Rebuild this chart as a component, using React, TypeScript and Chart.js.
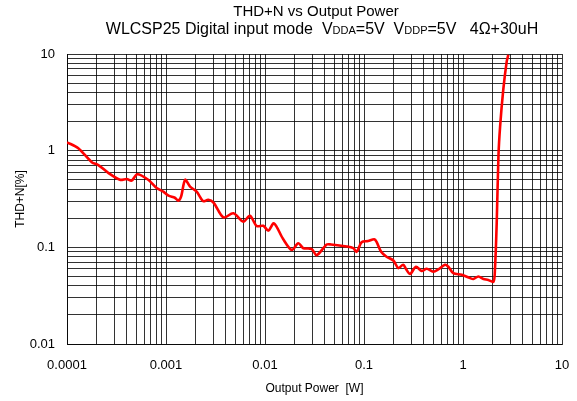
import React, { useEffect, useRef } from "react";
import { Chart, registerables } from "chart.js";

Chart.register(...registerables);

const powerW: number[] = [
  1.0e-4, 1.3e-4, 1.78e-4, 2.07e-4, 2.61e-4, 3.43e-4, 4.01e-4, 4.5e-4, 5.13e-4, 6.61e-4,
  8.05e-4, 9.4e-4, 1.06e-3, 1.23e-3, 1.33e-3, 1.42e-3, 1.56e-3, 1.75e-3, 2.04e-3, 2.38e-3,
  2.67e-3, 3.02e-3, 3.8e-3, 4.79e-3, 6.04e-3, 7.05e-3, 8.24e-3, 9.62e-3, 1.08e-2, 1.23e-2,
  1.53e-2, 1.86e-2, 2.17e-2, 2.44e-2, 2.96e-2, 3.33e-2, 4.2e-2, 4.64e-2, 6.68e-2, 7.8e-2,
  8.43e-2, 9.46e-2, 0.11, 0.127, 0.134, 0.149, 0.169, 0.198, 0.222, 0.249,
  0.265, 0.292, 0.335, 0.382, 0.43, 0.501, 0.562, 0.658, 0.711, 0.798,
  0.971, 1.18, 1.27, 1.43, 1.61, 1.8, 2.03, 2.1, 2.19, 2.28,
  2.37, 2.55, 2.76, 2.87,
];

const thdN: number[] = [
  1.22, 1.06, 0.76, 0.71, 0.59, 0.5, 0.51, 0.49, 0.57, 0.5,
  0.41, 0.377, 0.342, 0.326, 0.304, 0.334, 0.5, 0.425, 0.377, 0.3,
  0.31, 0.29, 0.204, 0.225, 0.184, 0.212, 0.166, 0.167, 0.149, 0.177,
  0.121, 0.094, 0.11, 0.098, 0.096, 0.083, 0.107, 0.107, 0.102, 0.098,
  0.09, 0.113, 0.116, 0.121, 0.114, 0.09, 0.08, 0.073, 0.061, 0.066,
  0.06, 0.053, 0.063, 0.057, 0.06, 0.056, 0.059, 0.066, 0.063, 0.054,
  0.052, 0.048, 0.047, 0.05, 0.047, 0.046, 0.044, 0.058, 0.177, 0.87,
  1.77, 4.25, 8.3, 9.8,
];

const xMajorLabels: string[] = ["0.0001", "0.001", "0.01", "0.1", "1", "10"];
const yMajorLabels: string[] = ["0.01", "0.1", "1", "10"];

const xMin = 0.0001;
const xMax = 10;
const yMin = 0.01;
const yMax = 10;

const titleLine1 = "THD+N vs Output Power";
const titleLine2: { text: string; sub: boolean }[] = [
  { text: "WLCSP25 Digital input mode  V", sub: false },
  { text: "DDA", sub: true },
  { text: "=5V  V", sub: false },
  { text: "DDP", sub: true },
  { text: "=5V   4Ω+30uH", sub: false },
];

const xTitle = "Output Power  [W]";
const yTitle = "THD+N[%]";

function logTicks(min: number, max: number): number[] {
  const out: number[] = [];
  const e0 = Math.round(Math.log10(min));
  const e1 = Math.round(Math.log10(max));
  for (let e = e0; e < e1; e++) {
    for (let m = 1; m <= 9; m++) out.push(parseFloat((m * Math.pow(10, e)).toPrecision(6)));
  }
  out.push(max);
  return out;
}

function majorLabel(v: number, labels: string[]): string {
  const l = Math.log10(v);
  if (Math.abs(l - Math.round(l)) > 1e-6) return "";
  const s = labels.find((t) => Math.abs(parseFloat(t) - v) < v * 1e-6);
  return s ?? "";
}

const FONT = "'Liberation Sans', Arial, Helvetica, sans-serif";

const titlePlugin = {
  id: "customTitle",
  afterDraw(chart: any) {
    const ctx = chart.ctx as CanvasRenderingContext2D;
    ctx.save();
    ctx.fillStyle = "#000";
    ctx.textBaseline = "alphabetic";
    ctx.textAlign = "left";
    ctx.font = `15px ${FONT}`;
    const w1 = ctx.measureText(titleLine1).width;
    ctx.fillText(titleLine1, 316 - w1 / 2, 16);
    const big = `16px ${FONT}`;
    const small = `11px ${FONT}`;
    let total = 0;
    for (const seg of titleLine2) {
      ctx.font = seg.sub ? small : big;
      total += ctx.measureText(seg.text).width;
    }
    let x = 322 - total / 2;
    for (const seg of titleLine2) {
      ctx.font = seg.sub ? small : big;
      ctx.fillText(seg.text, x, 34);
      x += ctx.measureText(seg.text).width;
    }
    ctx.restore();
  },
};

export default function App() {
  const ref = useRef<HTMLCanvasElement | null>(null);

  useEffect(() => {
    document.body.style.margin = "0";
    const canvas = ref.current;
    if (!canvas) return;
    const xTicks = logTicks(xMin, xMax);
    const yTicks = logTicks(yMin, yMax);
    const gridColor = "rgba(0,0,0,0.8)";
    const chart = new Chart(canvas, {
      type: "line",
      data: {
        datasets: [
          {
            data: powerW.map((p, i) => ({ x: p, y: thdN[i] })),
            borderColor: "#ff0000",
            borderWidth: 2.6,
            pointRadius: 0,
            tension: 0.3,
            fill: false,
          },
        ],
      },
      options: {
        animation: false,
        responsive: false,
        maintainAspectRatio: false,
        layout: { padding: { top: 54, right: 15, left: 0, bottom: 0 } },
        plugins: {
          legend: { display: false },
          tooltip: { enabled: false },
          title: { display: false },
        },
        scales: {
          x: {
            type: "logarithmic",
            min: xMin,
            max: xMax,
            afterBuildTicks: (scale: any) => {
              scale.ticks = xTicks.map((v) => ({ value: v }));
            },
            afterFit: (scale: any) => {
              scale.height = 57;
            },
            grid: {
              color: gridColor,
              lineWidth: 1,
              drawTicks: true,
              tickLength: 12,
              tickColor: "rgba(0,0,0,0)",
            },
            border: { display: true, color: gridColor, width: 1 },
            ticks: {
              autoSkip: false,
              maxRotation: 0,
              minRotation: 0,
              padding: 2,
              color: "#000",
              font: { family: FONT, size: 13 },
              callback: (v: any) => majorLabel(Number(v), xMajorLabels),
            },
            title: {
              display: true,
              text: xTitle,
              color: "#000",
              font: { family: FONT, size: 12 },
              padding: { top: 0, bottom: 5 },
            },
          },
          y: {
            type: "logarithmic",
            min: yMin,
            max: yMax,
            afterBuildTicks: (scale: any) => {
              scale.ticks = yTicks.map((v) => ({ value: v }));
            },
            afterFit: (scale: any) => {
              scale.width = 67;
            },
            grid: { color: gridColor, lineWidth: 1, drawTicks: false },
            border: { display: true, color: gridColor, width: 1 },
            ticks: {
              autoSkip: false,
              padding: 12,
              color: "#000",
              font: { family: FONT, size: 13 },
              callback: (v: any) => majorLabel(Number(v), yMajorLabels),
            },
            title: {
              display: true,
              text: yTitle,
              color: "#000",
              font: { family: FONT, size: 12 },
              padding: { top: 13, bottom: 0 },
            },
          },
        },
      },
      plugins: [titlePlugin],
    });
    return () => chart.destroy();
  }, []);

  return (
    <div style={{ position: "absolute", left: 0, top: 0, width: 577, height: 401 }}>
      <canvas ref={ref} width={577} height={401} style={{ display: "block", width: 577, height: 401 }} />
    </div>
  );
}
